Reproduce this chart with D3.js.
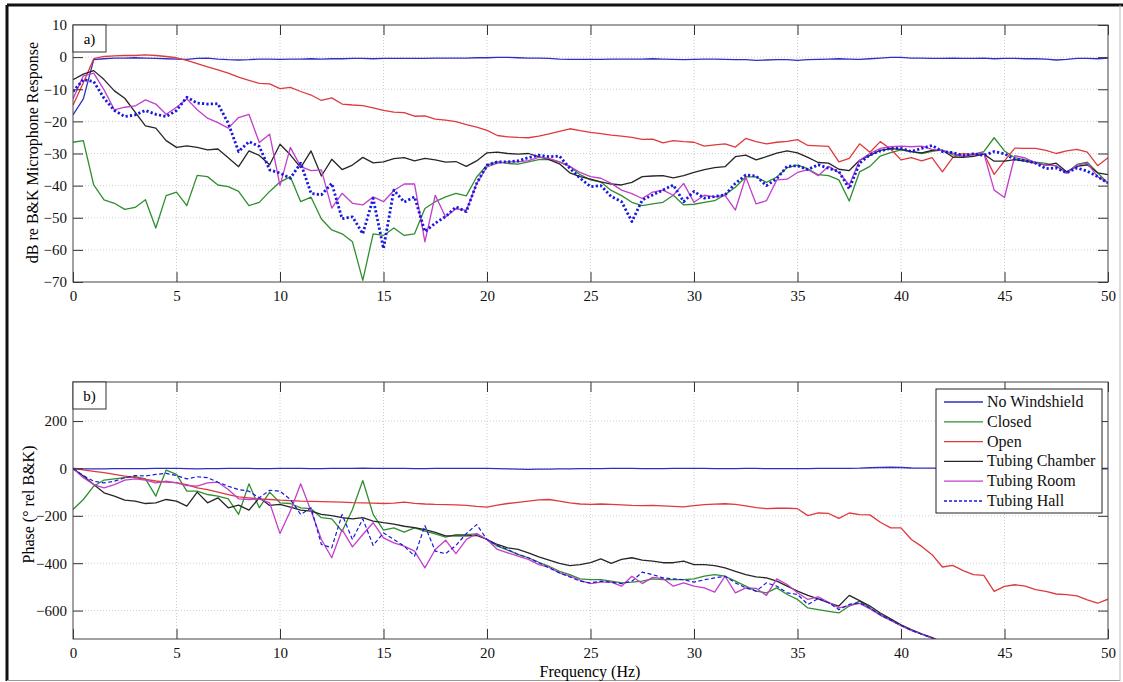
<!DOCTYPE html>
<html>
<head>
<meta charset="utf-8">
<script src="https://cdn.jsdelivr.net/npm/d3@7"></script>
<style>
  body { margin: 0; background: #fff; }
  svg { display: block; font-family: "Liberation Serif", "DejaVu Serif", serif; }
</style>
</head>
<body>
<script>
const WIDTH = 1123;
const HEIGHT = 682;

// frecuencias de muestreo (Hz), una fila = 5 Hz
const FRECUENCIAS = [
  0, 0.5, 1, 1.5, 2, 2.5, 3, 3.5, 4, 4.5,
  5, 5.5, 6, 6.5, 7, 7.5, 8, 8.5, 9, 9.5,
  10, 10.5, 11, 11.5, 12, 12.5, 13, 13.5, 14, 14.5,
  15, 15.5, 16, 16.5, 17, 17.5, 18, 18.5, 19, 19.5,
  20, 20.5, 21, 21.5, 22, 22.5, 23, 23.5, 24, 24.5,
  25, 25.5, 26, 26.5, 27, 27.5, 28, 28.5, 29, 29.5,
  30, 30.5, 31, 31.5, 32, 32.5, 33, 33.5, 34, 34.5,
  35, 35.5, 36, 36.5, 37, 37.5, 38, 38.5, 39, 39.5,
  40, 40.5, 41, 41.5, 42, 42.5, 43, 43.5, 44, 44.5,
  45, 45.5, 46, 46.5, 47, 47.5, 48, 48.5, 49, 49.5,
  50
];

const NOMBRES = ["No Windshield", "Closed", "Open", "Tubing Chamber", "Tubing Room", "Tubing Hall"];
const COLORES = ["#2f2fc4", "#2f8f2f", "#e0393b", "#262626", "#c23fcc", "#1818e0"];

const X_TICKS = [0, 5, 10, 15, 20, 25, 30, 35, 40, 45, 50];
const Y_TICKS_A = [10, 0, -10, -20, -30, -40, -50, -60, -70];
const Y_TICKS_B = [200, 0, -200, -400, -600];

// a) magnitud, dB re B&K
const magNoWindshield = [
  -18, -13, -0.8, -0.5, -0.3, -0.3, -0.2, -0.3, -0.4, -0.5,
  -0.6, -0.7, -0.4, -0.3, -0.6, -0.8, -0.9, -0.8, -0.6, -0.6,
  -0.7, -0.6, -0.6, -0.5, -0.6, -0.5, -0.5, -0.4, -0.4, -0.5,
  -0.4, -0.4, -0.4, -0.4, -0.4, -0.3, -0.3, -0.3, -0.3, -0.2,
  -0.2, -0.1, -0.1, -0.2, -0.3, -0.3, -0.4, -0.6, -0.7, -0.7,
  -0.7, -0.7, -0.6, -0.6, -0.6, -0.6, -0.5, -0.6, -0.7, -0.8,
  -0.7, -0.6, -0.6, -0.7, -0.8, -0.8, -1.0, -0.9, -0.8, -0.8,
  -1.0, -0.8, -0.7, -0.6, -0.5, -0.6, -0.7, -0.5, -0.3, -0.1,
  -0.1, -0.3, -0.3, -0.4, -0.4, -0.3, -0.4, -0.4, -0.3, -0.5,
  -0.4, -0.4, -0.5, -0.5, -0.6, -0.9, -0.7, -0.4, -0.4, -0.5,
  -0.3
];
const magClosed = [
  -26.5, -26, -39.8, -44.4, -45.5, -47.4, -46.8, -44.4, -53.2, -43.1,
  -42, -46.2, -36.8, -37.2, -39.8, -40.3, -41.8, -46.2, -45.2, -41.8,
  -38.9, -37.2, -45, -43.6, -50.4, -53.8, -55, -57.5, -69.5, -55,
  -55.5, -53.2, -55.5, -55, -47.1, -45, -43.5, -42.4, -43.2, -37.3,
  -33.6, -32.6, -33.1, -33.3, -32.6, -31.9, -31.9, -32.6, -34, -36.6,
  -38.2, -38.9, -41.5, -43.1, -45.2, -46.2, -45.7, -45.2, -43, -46,
  -45.8, -45.2, -44.7, -42.8, -40.5, -37.3, -37.3, -39, -37.3, -34.4,
  -33.6, -34.8, -36.6, -36.9, -38.2, -44.8, -35.7, -34, -30.8, -29.7,
  -28.9, -29.4, -30, -29.3, -28.9, -30.4, -31, -30.3, -29.4, -25.1,
  -29.2, -31.3, -32, -32.7, -33.1, -33.9, -36, -33.4, -32.7, -36,
  -39.2
];
const magOpen = [
  -15, -8, -0.5, 0.2, 0.4, 0.5, 0.5, 0.7, 0.5, 0.2,
  -0.2, -1, -2, -3, -4, -5, -6.2, -7.2, -8.2, -8.3,
  -9.8, -9.4, -10.7, -11.8, -13.5, -12.7, -14.6, -14.9, -15.1, -15.8,
  -16.6, -17.1, -17.3, -18.4, -18.3, -19.3, -19.6, -20.1, -21, -21.8,
  -22.8, -24.4, -24.8, -25, -25.1, -24.6, -23.9, -23.1, -22.3, -22.9,
  -23.4, -23.8, -24.3, -24.6, -25, -25.6, -25.5, -26.7, -26, -26.3,
  -26.5, -27.7, -27.3, -27, -28, -25.3, -26.3, -27, -26.5, -26.2,
  -25.7, -27.5, -27.6, -27.8, -32.6, -31.5, -27, -29.6, -26.3, -28.6,
  -32, -31.3, -32.3, -31.3, -35.7, -31.3, -30, -30.4, -30, -36.5,
  -32.3, -28.3, -28.4, -28.4, -29, -30, -29.2, -28.7, -29.6, -33.8,
  -31.3
];
const magTubingChamber = [
  -7, -5.3, -4.2, -7, -10.5, -12.8, -17.1, -21.4, -22.1, -26,
  -28.1, -27.6, -28.1, -28.9, -28.6, -31.3, -34.1, -29.2, -30.6, -33.5,
  -27.1, -30.4, -34.4, -29.2, -37, -31.8, -35, -33.6, -31.2, -32.9,
  -32.6, -31.6, -31.3, -32.3, -31.5, -32, -32.7, -32.5, -34, -32.3,
  -29.8, -29.6, -30, -30.2, -30, -31, -31.9, -33.2, -36, -37.2,
  -38, -38.8, -39.5, -39.8, -39, -37.2, -37, -36.9, -37.6, -36.9,
  -35.9, -35, -34.4, -34.1, -31, -30.5, -32, -31, -29.9, -29.2,
  -29.8, -31.2, -32.8, -33, -34.9, -35.3, -32.1, -30.6, -29, -28.5,
  -28.7, -29.4, -29.8, -29, -29, -31.1, -31.2, -30.9, -30.2, -32.4,
  -32.4, -31.9, -32.4, -33, -33.6, -33, -35.7, -34, -33.5, -36,
  -36.6
];
const magTubingRoom = [
  -13, -5.8, -5, -10.2, -16.4, -15.6, -15.2, -13.3, -14.6, -17.8,
  -15.6, -13, -16.4, -19, -20.4, -22.1, -18.8, -17.8, -26.6, -24,
  -40, -28.1, -34.1, -35.3, -35.1, -47, -42.4, -45.5, -46, -43.5,
  -45, -41.5, -39.5, -39.5, -57.5, -43, -49.8, -47.2, -47.7, -39.4,
  -34.2, -33, -32.6, -32.6, -32.2, -31.2, -31.5, -32.6, -34, -35.9,
  -37.2, -37.7, -39.3, -41.4, -42.5, -44, -42, -41.4, -43, -39.3,
  -45.2, -43, -43.5, -43, -47.6, -37.3, -45.7, -44.7, -38.2, -38,
  -35.9, -35, -36.9, -34, -35.9, -39.8, -32.1, -30, -28.4, -27.9,
  -27.7, -27.9, -27.7, -28.7, -29.1, -29.9, -30.9, -30.1, -29.9, -41.4,
  -43.7, -30.7, -31.4, -32.9, -33.6, -33.8, -36.2, -33.6, -33, -37.2,
  -39.2
];
const magTubingHall = [
  -10.7, -7, -7.6, -12.8, -16.6, -18.5, -18, -16.6, -17.8, -18.5,
  -16.6, -12.5, -14.3, -14.6, -14.5, -20.6, -29.4, -26.3, -27.8, -35.1,
  -36.1, -37.7, -33, -42.4, -42.9, -39.3, -50.3, -49.7, -55, -44,
  -59.6, -41.4, -45.1, -43.5, -54.3, -51.7, -49.6, -46.6, -48.1, -39.3,
  -33.6, -32.6, -32.6, -32.3, -31.3, -30.5, -31, -30.8, -34.6, -37.7,
  -40.3, -40, -43.4, -45, -51.2, -44.5, -42.9, -41.4, -39.8, -45,
  -41.8, -43.9, -43.4, -42.9, -39.3, -36.7, -37, -40, -37.8, -34,
  -33.8, -35, -33.5, -34.6, -35.6, -41, -33, -30.4, -29.2, -28.4,
  -28.4, -29.4, -28.4, -27.5, -29.4, -29.7, -30.6, -30.1, -30.6, -29.4,
  -30.1, -31.8, -32.2, -33, -34.7, -34.5, -36, -34.5, -35.5, -37.2,
  -39.2
];

// b) fase, grados rel B&K (las series de tubo salen del eje cerca de 42 Hz)
const phaseNoWindshield = [
  0, -2, -2, -2, -1, -1, -1, -1, 0, 0,
  0, -1, -2, -1, -1, 0, 0, 0, -1, -1,
  0, 0, 0, -1, -1, 0, 0, 0, 1, 0,
  0, 0, 0, -1, -1, 0, 0, 0, 0, 0,
  0, -1, -2, -3, -4, -3, -3, -2, -2, -1,
  -1, -1, 0, 0, 0, -1, -1, -1, 0, 0,
  0, 0, -1, -1, -1, 0, 0, -1, -1, -1,
  -1, -1, 0, 0, 0, 0, 1, 3, 4, 5,
  4, 2, 1, 1, 0, 0, 0, 0, 0, 0,
  0, 0, 0, 0, 0, 0, 0, 0, 0, 0,
  0
];
const phaseClosed = [
  -173, -131, -75, -49, -44, -39, -35, -44, -117, -7,
  -25, -96, -96, -110, -117, -128, -194, -65, -166, -100,
  -145, -148, -166, -170, -208, -213, -265, -173, -51, -194,
  -260, -251, -269, -251, -265, -276, -290, -279, -279, -276,
  -300, -328, -345, -363, -377, -396, -413, -434, -448, -466,
  -469, -469, -476, -483, -480, -476, -466, -469, -469, -469,
  -466, -455, -448, -455, -476, -497, -518, -525, -504, -532,
  -553, -589, -596, -603, -610, -581, -560, -589, -617, -640,
  -664, -684, -700, -715, -735
];
const phaseOpen = [
  0, -6, -12, -18, -25, -32, -39, -46, -53, -58,
  -60, -68, -82, -89, -100, -110, -120, -124, -128, -131,
  -134, -136, -138, -139, -140, -141, -142, -144, -145, -146,
  -148, -146, -142, -147, -150, -152, -153, -154, -156, -160,
  -163, -155, -148, -143, -138, -133, -131, -138, -145, -150,
  -152, -150, -152, -154, -156, -157, -156, -158, -160, -162,
  -157, -153, -151, -149, -152, -158, -165, -170, -168, -168,
  -170, -199, -188, -190, -211, -188, -195, -196, -227, -251,
  -251, -300, -329, -364, -416, -409, -431, -448, -451, -519,
  -498, -491, -497, -512, -519, -530, -533, -538, -555, -569,
  -552
];
const phaseTubingChamber = [
  0, -32, -68, -103, -117, -134, -138, -148, -145, -131,
  -138, -159, -100, -145, -124, -166, -155, -176, -124, -156,
  -152, -163, -176, -180, -194, -199, -208, -213, -208, -222,
  -229, -235, -244, -250, -258, -270, -285, -285, -285, -283,
  -300, -321, -335, -342, -356, -373, -387, -401, -410, -406,
  -398, -382, -401, -384, -377, -387, -391, -398, -398, -391,
  -406, -406, -410, -420, -434, -448, -458, -462, -476, -497,
  -518, -536, -551, -567, -581, -536, -558, -581, -610, -635,
  -660, -680, -698, -714, -733
];
const phaseTubingRoom = [
  0, -39, -68, -82, -68, -49, -44, -49, -61, -54,
  -61, -72, -75, -61, -58, -89, -128, -131, -128, -145,
  -275, -180, -65, -180, -300, -377, -258, -331, -279, -229,
  -293, -314, -328, -349, -420, -342, -303, -360, -300, -275,
  -300, -342, -356, -370, -384, -406, -417, -441, -455, -472,
  -486, -480, -480, -497, -455, -486, -460, -465, -497, -483,
  -497, -504, -522, -455, -525, -504, -506, -536, -466, -490,
  -525, -553, -542, -565, -589, -579, -570, -593, -620, -642,
  -664, -684, -700, -716, -735
];
const phaseTubingHall = [
  0, -30, -54, -61, -54, -39, -30, -32, -25, -21,
  -30, -44, -35, -39, -58, -75, -89, -96, -124, -92,
  -96, -131, -194, -166, -321, -335, -194, -300, -213, -325,
  -272, -300, -328, -370, -241, -349, -360, -325, -275, -237,
  -300, -325, -342, -363, -377, -398, -420, -441, -458, -476,
  -483, -476, -480, -486, -476, -438, -448, -462, -466, -470,
  -480, -470, -462, -455, -483, -504, -518, -483, -497, -525,
  -532, -574, -549, -567, -596, -574, -567, -589, -618, -640,
  -662, -683, -700, -715, -735
];

const SVG = d3
  .select("body")
  .append("svg")
  .attr("width", WIDTH)
  .attr("height", HEIGHT);

const LEFT = 73;
const RIGHT = 1108;

const x = d3.scaleLinear().domain([0, 50]).range([LEFT, RIGHT]);

// marco exterior
SVG.append("rect")
  .attr("x", 0).attr("y", 0).attr("width", WIDTH).attr("height", HEIGHT)
  .attr("fill", "#fff");
SVG.append("line").attr("x1", 7).attr("x2", WIDTH).attr("y1", 5).attr("y2", 5)
  .attr("stroke", "#111").attr("stroke-width", 3);
SVG.append("line").attr("x1", 7).attr("x2", 7).attr("y1", 5).attr("y2", 681)
  .attr("stroke", "#111").attr("stroke-width", 3);
SVG.append("line").attr("x1", 7).attr("x2", 1120).attr("y1", 680.5).attr("y2", 680.5)
  .attr("stroke", "#999").attr("stroke-width", 1.2);
SVG.append("line").attr("x1", 1120).attr("x2", 1120).attr("y1", 5).attr("y2", 681)
  .attr("stroke", "#bbb").attr("stroke-width", 1);

const dibujarPanel = (cfg) => {
  const y = d3.scaleLinear().domain(cfg.dominio).range([cfg.abajo, cfg.arriba]);
  const g = SVG.append("g");

  // rejilla punteada
  g.append("g")
    .selectAll("line")
    .data(X_TICKS.slice(1, -1))
    .join("line")
    .attr("x1", (d) => x(d)).attr("x2", (d) => x(d))
    .attr("y1", cfg.arriba).attr("y2", cfg.abajo)
    .attr("stroke", "#cfcfcf").attr("stroke-dasharray", "1,2");
  g.append("g")
    .selectAll("line")
    .data(cfg.yTicks.filter((d) => d !== cfg.dominio[0] && d !== cfg.dominio[1]))
    .join("line")
    .attr("x1", LEFT).attr("x2", RIGHT)
    .attr("y1", (d) => y(d)).attr("y2", (d) => y(d))
    .attr("stroke", "#cfcfcf").attr("stroke-dasharray", "1,2");

  const clipId = "clip-" + cfg.letra;
  SVG.append("clipPath").attr("id", clipId)
    .append("rect")
    .attr("x", LEFT).attr("y", cfg.arriba)
    .attr("width", RIGHT - LEFT).attr("height", cfg.abajo - cfg.arriba);

  const linea = d3.line()
    .x((d) => x(d[0]))
    .y((d) => y(d[1]));

  const curvas = g.append("g").attr("clip-path", `url(#${clipId})`);
  cfg.series.forEach((valores, i) => {
    const puntos = valores.map((v, j) => [FRECUENCIAS[j], v]);
    const p = curvas.append("path")
      .datum(puntos)
      .attr("fill", "none")
      .attr("stroke", COLORES[i])
      .attr("stroke-width", 1.3)
      .attr("stroke-linejoin", "round")
      .attr("d", linea);
    if (i === 5) {
      p.attr("stroke-width", cfg.hallAncho).attr("stroke-dasharray", cfg.hallTrazo);
    }
  });

  // ejes con marcas hacia adentro
  const estiloEje = (sel) => {
    sel.select(".domain").remove();
    sel.selectAll(".tick line").attr("stroke", "#333");
    sel.selectAll(".tick text")
      .attr("fill", "#111")
      .style("font-size", "15px")
      .style("font-family", "'Liberation Serif', serif");
  };

  g.append("g")
    .attr("transform", `translate(0,${cfg.abajo})`)
    .call(d3.axisBottom(x).tickValues(X_TICKS).tickSizeInner(-10).tickSizeOuter(0).tickPadding(8))
    .call(estiloEje);
  g.append("g")
    .attr("transform", `translate(0,${cfg.arriba})`)
    .call(d3.axisTop(x).tickValues(X_TICKS).tickSizeInner(-10).tickSizeOuter(0).tickFormat(""))
    .call(estiloEje);
  g.append("g")
    .attr("transform", `translate(${LEFT},0)`)
    .call(d3.axisLeft(y).tickValues(cfg.yTicks).tickSizeInner(-10).tickSizeOuter(0).tickPadding(6))
    .call(estiloEje);
  g.append("g")
    .attr("transform", `translate(${RIGHT},0)`)
    .call(d3.axisRight(y).tickValues(cfg.yTicks).tickSizeInner(-10).tickSizeOuter(0).tickFormat(""))
    .call(estiloEje);

  g.append("rect")
    .attr("x", LEFT).attr("y", cfg.arriba)
    .attr("width", RIGHT - LEFT).attr("height", cfg.abajo - cfg.arriba)
    .attr("fill", "none").attr("stroke", "#444").attr("stroke-width", 1);

  // etiqueta a) / b)
  g.append("rect")
    .attr("x", LEFT).attr("y", cfg.arriba)
    .attr("width", 33).attr("height", 27)
    .attr("fill", "#fff").attr("stroke", "#333").attr("stroke-width", 1);
  g.append("text")
    .attr("x", LEFT + 16.5).attr("y", cfg.arriba + 19)
    .attr("text-anchor", "middle")
    .style("font-size", "15px")
    .text(cfg.letra + ")");

  g.append("text")
    .attr("transform", `translate(${cfg.labelX},${(cfg.arriba + cfg.abajo) / 2 + cfg.labelDy}) rotate(-90)`)
    .attr("text-anchor", "middle")
    .style("font-size", "16px")
    .text(cfg.etiqueta);

  return y;
};

dibujarPanel({
  letra: "a",
  arriba: 25,
  abajo: 282,
  dominio: [-70, 10],
  yTicks: Y_TICKS_A,
  etiqueta: "dB re B&K Microphone Response",
  labelX: 38,
  labelDy: -1,
  hallAncho: 2.8,
  hallTrazo: "2.2,2.2",
  series: [magNoWindshield, magClosed, magOpen, magTubingChamber, magTubingRoom, magTubingHall]
});

dibujarPanel({
  letra: "b",
  arriba: 382,
  abajo: 639,
  dominio: [-720, 365],
  yTicks: Y_TICKS_B,
  etiqueta: "Phase (\u00B0 rel B&K)",
  labelX: 34,
  labelDy: -6,
  hallAncho: 1.2,
  hallTrazo: "4,2.5",
  series: [phaseNoWindshield, phaseClosed, phaseOpen, phaseTubingChamber, phaseTubingRoom, phaseTubingHall]
});

SVG.append("text")
  .attr("x", 590).attr("y", 677)
  .attr("text-anchor", "middle")
  .style("font-size", "16px")
  .text("Frequency (Hz)");

// leyenda
const leyenda = SVG.append("g");
leyenda.append("rect")
  .attr("x", 936).attr("y", 389).attr("width", 166).attr("height", 124)
  .attr("fill", "#fff").attr("stroke", "#222").attr("stroke-width", 1);
const items = leyenda.selectAll("g.item")
  .data(NOMBRES)
  .join("g")
  .attr("class", "item")
  .attr("transform", (d, i) => `translate(0,${402 + i * 19.8})`);
items.append("line")
  .attr("x1", 944).attr("x2", 983)
  .attr("stroke", (d, i) => COLORES[i])
  .attr("stroke-width", 1.3)
  .attr("stroke-dasharray", (d, i) => (i === 5 ? "3,2" : null));
items.append("text")
  .attr("x", 987).attr("y", 5)
  .style("font-size", "16px")
  .attr("fill", "#111")
  .text((d) => d);
</script>
</body>
</html>
